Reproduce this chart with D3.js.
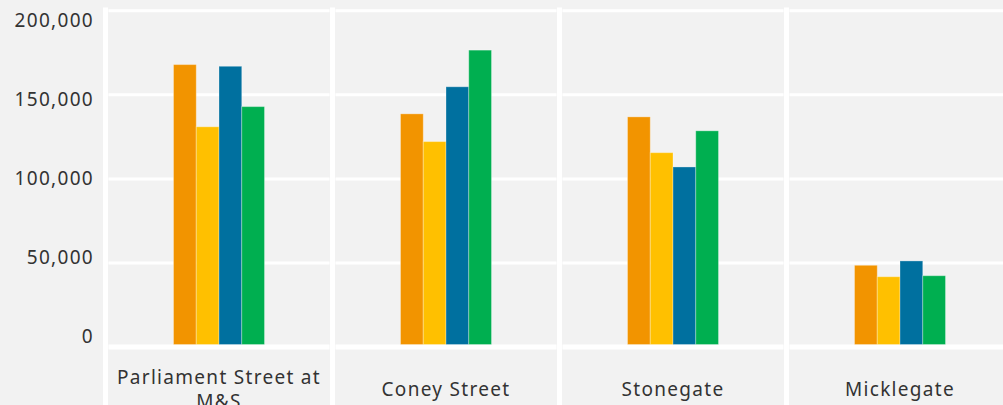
<!DOCTYPE html>
<html>
<head>
<meta charset="utf-8">
<script src="https://cdn.jsdelivr.net/npm/d3@7"></script>
<style>
  html, body { margin: 0; padding: 0; background: #f2f2f2; }
  svg { display: block; }
  .tick-label, .cat-label { font-family: "Noto Sans", sans-serif; font-size: 19px; fill: #333; letter-spacing: 1.3px; }
</style>
</head>
<body>
<div id="chart"></div>
<script>
const width = 1003, height = 405;

// data
const categories = ["Parliament Street at M&S", "Coney Street", "Stonegate", "Micklegate"];
const series = ["Series 1", "Series 2", "Series 3", "Series 4"];
const colors = ["#F29400", "#FFC000", "#00709F", "#00AF50"];
const values = [
  [168000, 131000, 167000, 143000],
  [138700, 122200, 154800, 176600],
  [136900, 115600, 107100, 128600],
  [48600, 41800, 51200, 42400]
];
const yTicks = [0, 50000, 100000, 150000, 200000];

const svg = d3.select("#chart")
  .append("svg")
  .attr("width", width)
  .attr("height", height);

svg.append("rect").attr("width", width).attr("height", height).attr("fill", "#f2f2f2");

// panels (one per category)
const x = d3.scaleBand()
  .domain(categories)
  .range([105.5, 105.5 + 227 * 4]);

const y = d3.scaleLinear()
  .domain([0, 200000])
  .range([347, 10.8]);

// tick labels are spread a bit differently from the grid
const yLab = d3.scaleLinear()
  .domain([0, 200000])
  .range([342.7, 26.7]);

const inner = d3.scaleBand()
  .domain(series)
  .range([-45.5, 45.5]);

const color = d3.scaleOrdinal(series, colors);

// horizontal gridlines per panel
const grid = svg.append("g");
categories.forEach(c => {
  grid.selectAll(null)
    .data(yTicks)
    .join("line")
    .attr("x1", x(c) + 3)
    .attr("x2", x(c) + x.step() - 3)
    .attr("y1", d => y(d))
    .attr("y2", d => y(d))
    .attr("stroke", "#fff")
    .attr("stroke-width", d => d === 0 ? 5 : 3);
});

// vertical panel separators
svg.append("g")
  .selectAll("line")
  .data(categories)
  .join("line")
  .attr("x1", d => x(d))
  .attr("x2", d => x(d))
  .attr("y1", 7.5)
  .attr("y2", height)
  .attr("stroke", "#fff")
  .attr("stroke-width", 5);

// bars
const groups = svg.append("g")
  .selectAll("g")
  .data(categories)
  .join("g")
  .attr("transform", d => `translate(${x(d) + x.step() / 2},0)`);

groups.selectAll("rect")
  .data((d, i) => series.map((s, j) => ({ s, v: values[i][j] })))
  .join("rect")
  .attr("x", d => inner(d.s))
  .attr("width", inner.bandwidth())
  .attr("y", d => y(d.v))
  .attr("height", d => y(0) - 2.5 - y(d.v))
  .attr("fill", d => color(d.s))
  .attr("stroke", "rgba(255,255,255,0.3)")
  .attr("stroke-width", 1);

// y labels
svg.append("g")
  .selectAll("text")
  .data(yTicks)
  .join("text")
  .attr("class", "tick-label")
  .attr("x", 94)
  .attr("y", d => yLab(d))
  .attr("text-anchor", "end")
  .text(d => d3.format(",")(d));

// category labels
svg.append("g")
  .selectAll("text")
  .data(categories)
  .join("text")
  .attr("class", "cat-label")
  .attr("text-anchor", "middle")
  .each(function (d) {
    const t = d3.select(this);
    const cx = x(d) + x.step() / 2;
    const lines = d === "Parliament Street at M&S" ? ["Parliament Street at", "M&S"] : [d];
    const y0 = lines.length > 1 ? 384 : 396;
    lines.forEach((l, k) => {
      t.append("tspan").attr("x", cx).attr("y", y0 + k * 24).text(l);
    });
  });
</script>
</body>
</html>
